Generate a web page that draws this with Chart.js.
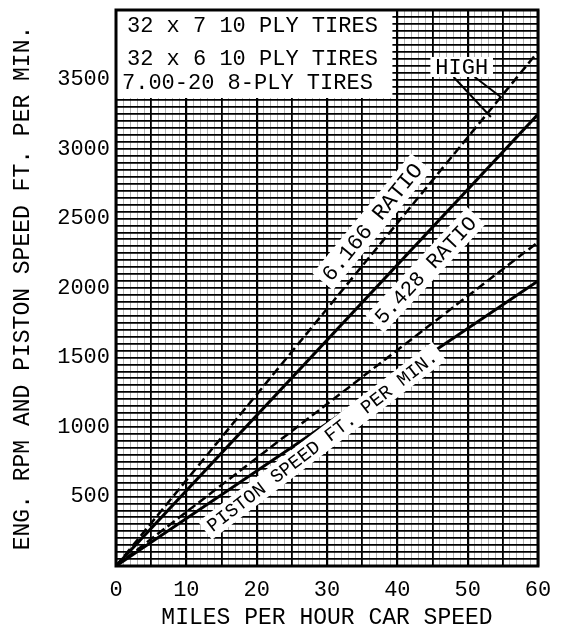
<!DOCTYPE html>
<html>
<head>
<meta charset="utf-8">
<script src="https://cdn.jsdelivr.net/npm/chart.js@4.4.0/dist/chart.umd.min.js"></script>
<style>
  html, body { margin: 0; padding: 0; background: #fff; }
  #wrap { width: 570px; height: 634px; }
</style>
</head>
<body>
<div id="wrap"><canvas id="c"></canvas></div>
<script>
// values (two ends of each straight line)
const speedsMph   = [0, 60];
const rpm6166     = [0, 3700];   // 6.166 ratio, dashed
const rpm5428     = [0, 3250];   // 5.428 ratio, solid
const piston6166  = [0, 2330];   // piston speed, dashed
const piston5428  = [0, 2050];   // piston speed, solid

const xTickLabels = [0, 10, 20, 30, 40, 50, 60];
const yTickLabels = [500, 1000, 1500, 2000, 2500, 3000, 3500];
const tireLines   = ['32 x 7 10 PLY TIRES', '32 x 6 10 PLY TIRES', '7.00-20 8-PLY TIRES'];

const MONO = '"Liberation Mono", "DejaVu Sans Mono", monospace';
Chart.defaults.font.family = MONO;
Chart.defaults.color = '#000';

const pts = vals => speedsMph.map((s, i) => ({ x: s, y: vals[i] }));

// text tags laid along the lines (anchor in data units)
const tags = [
  { text: '6.166 RATIO', at: [36.4, 2475], along: rpm6166, size: 22 },
  { text: '5.428 RATIO', at: [44.0, 2130], along: rpm5428, size: 21 },
  { text: 'PISTON SPEED FT. PER MIN.', at: [29.3, 900], along: piston6166, size: 19 }
];

function slopeAngle(chart, vals){
  const { x, y } = chart.scales;
  const dx = x.getPixelForValue(speedsMph[1]) - x.getPixelForValue(speedsMph[0]);
  const dy = y.getPixelForValue(vals[1]) - y.getPixelForValue(vals[0]);
  return Math.atan2(dy, dx);
}

const paper = {
  id: 'paper',
  beforeDatasetsDraw(chart){
    const { ctx } = chart;
    const { x, y } = chart.scales;
    // tyre box, top left
    const l = x.getPixelForValue(0), r = x.getPixelForValue(39.3);
    const t = y.getPixelForValue(4000), b = y.getPixelForValue(3367);
    ctx.save();
    ctx.fillStyle = '#fff';
    ctx.fillRect(l, t, r - l, b - t);
    ctx.fillStyle = '#000';
    ctx.font = '22px ' + MONO;
    ctx.textBaseline = 'middle';
    ctx.textAlign = 'left';
    ctx.fillText(tireLines[0], l + 11, t + 16);
    ctx.fillText(tireLines[1], l + 11, t + 49);
    ctx.fillText(tireLines[2], l + 6, t + 73);
    ctx.restore();
  },
  afterDatasetsDraw(chart){
    const { ctx, chartArea: a } = chart;
    const { x, y } = chart.scales;
    ctx.save();
    tags.forEach(tg => {
      const px = x.getPixelForValue(tg.at[0]), py = y.getPixelForValue(tg.at[1]);
      ctx.save();
      ctx.translate(px, py);
      ctx.rotate(slopeAngle(chart, tg.along));
      ctx.font = tg.size + 'px ' + MONO;
      const w = ctx.measureText(tg.text).width;
      ctx.fillStyle = '#fff';
      ctx.fillRect(-w / 2 - 5, -tg.size * 0.6, w + 10, tg.size * 1.2);
      ctx.fillStyle = '#000';
      ctx.textAlign = 'center';
      ctx.textBaseline = 'middle';
      ctx.fillText(tg.text, 0, 1);
      ctx.restore();
    });

    // HIGH box with leaders
    const hl = x.getPixelForValue(44.7), hr = x.getPixelForValue(53.6);
    const ht = y.getPixelForValue(3662), hb = y.getPixelForValue(3518);
    ctx.strokeStyle = '#000';
    ctx.lineWidth = 2;
    ctx.beginPath();
    ctx.moveTo(x.getPixelForValue(48.0), hb);
    ctx.lineTo(x.getPixelForValue(53.3), y.getPixelForValue(3230));
    ctx.moveTo(x.getPixelForValue(51.0), hb);
    ctx.lineTo(x.getPixelForValue(54.8), y.getPixelForValue(3370));
    ctx.stroke();
    ctx.fillStyle = '#fff';
    ctx.fillRect(hl, ht, hr - hl, hb - ht);
    ctx.fillStyle = '#000';
    ctx.font = '22px ' + MONO;
    ctx.textAlign = 'center';
    ctx.textBaseline = 'middle';
    ctx.fillText('HIGH', (hl + hr) / 2, (ht + hb) / 2 + 1);

    // heavy frame
    ctx.lineWidth = 3;
    ctx.strokeRect(a.left, a.top, a.right - a.left, a.bottom - a.top);
    ctx.restore();
  }
};

const noPad = s => { s.paddingTop = 0; s.paddingBottom = 0; s.paddingLeft = 0; s.paddingRight = 0; };

new Chart(document.getElementById('c'), {
  type: 'line',
  data: {
    datasets: [
      { label: '6.166 RATIO', data: pts(rpm6166), borderColor: '#000', borderWidth: 2.5, borderDash: [9, 4] },
      { label: '5.428 RATIO', data: pts(rpm5428), borderColor: '#000', borderWidth: 3 },
      { label: 'PISTON 6.166', data: pts(piston6166), borderColor: '#000', borderWidth: 2.5, borderDash: [9, 4] },
      { label: 'PISTON 5.428', data: pts(piston5428), borderColor: '#000', borderWidth: 3 }
    ]
  },
  options: {
    responsive: true, maintainAspectRatio: false, animation: false, devicePixelRatio: 1,
    layout: { padding: { top: 10, right: 32, left: 0, bottom: 0 } },
    elements: { point: { radius: 0 }, line: { tension: 0, fill: false } },
    plugins: { legend: { display: false }, tooltip: { enabled: false } },
    scales: {
      x: {
        type: 'linear', min: 0, max: 60,
        ticks: {
          stepSize: 1, autoSkip: false, maxRotation: 0, padding: 11,
          font: { size: 22 }, color: '#000',
          callback: v => xTickLabels.includes(v) ? String(v) : ''
        },
        grid: {
          drawTicks: false,
          color: c => c.tick.value % 5 === 0 ? '#000' : 'rgba(0,0,0,0.3)',
          lineWidth: c => c.tick.value % 10 === 0 ? 2.2 : (c.tick.value % 5 === 0 ? 1.8 : 1)
        },
        border: { display: false },
        title: { display: true, text: 'MILES PER HOUR CAR SPEED', font: { size: 23 }, color: '#000', padding: { top: 0, bottom: 2 } },
        afterFit: s => { s.height = 68; noPad(s); }
      },
      y: {
        min: 0, max: 4000,
        ticks: {
          stepSize: 50, autoSkip: false, padding: 6,
          font: { size: 22 }, color: '#000',
          callback: v => yTickLabels.includes(v) ? String(v) : ''
        },
        grid: { drawTicks: false, color: '#000', lineWidth: 1.8 },
        border: { display: false },
        title: { display: true, text: 'ENG. RPM AND PISTON SPEED FT. PER MIN.', font: { size: 23 }, color: '#000', padding: { top: 9, bottom: 0 } },
        afterFit: s => { s.width = 116; noPad(s); }
      }
    }
  },
  plugins: [paper]
});
</script>
</body>
</html>
